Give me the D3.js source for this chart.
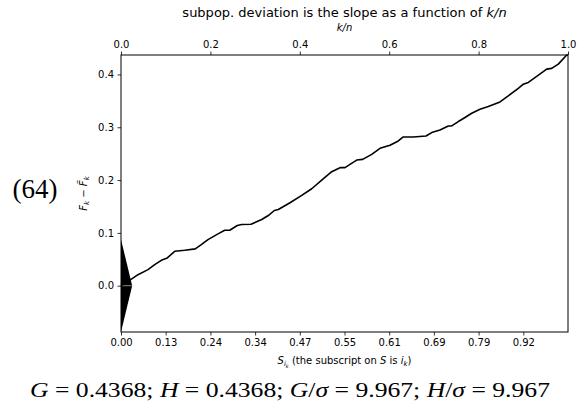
<!DOCTYPE html>
<html><head><meta charset="utf-8">
<script src="https://cdn.jsdelivr.net/npm/d3@7"></script>
<style>body{margin:0;background:#fff}svg{display:block}</style>
</head><body>
<script>
// data
const kn = [0,0.0217,0.038,0.0604,0.0754,0.0902,0.1036,0.1201,0.1425,0.1662,0.1796,0.1946,0.2170,0.2320,0.2432,0.2602,0.2700,0.2908,0.3148,0.3295,0.3430,0.3519,0.3781,0.4043,0.4266,0.4490,0.4714,0.4899,0.5011,0.5123,0.5273,0.5407,0.5609,0.5794,0.6018,0.6204,0.6315,0.6539,0.6823,0.6951,0.7136,0.7322,0.7398,0.7546,0.7696,0.7846,0.8031,0.8217,0.8479,0.8664,0.8888,0.9000,0.9112,0.9300,0.9523,0.9635,0.9783,0.9971,1.0];
const dev = [0,0.0114,0.0209,0.0304,0.0399,0.0480,0.0526,0.0651,0.0670,0.0697,0.0778,0.0873,0.0982,0.1050,0.1050,0.1139,0.1158,0.1164,0.1253,0.1329,0.1424,0.1443,0.1570,0.1709,0.1836,0.1999,0.2159,0.2235,0.2235,0.2297,0.2379,0.2392,0.2487,0.2601,0.2658,0.2740,0.2816,0.2816,0.2835,0.2899,0.2949,0.3025,0.3025,0.3108,0.3184,0.3266,0.3342,0.3393,0.3480,0.3594,0.3735,0.3816,0.3849,0.3962,0.4101,0.4114,0.4196,0.4367,0.4368];
const topTicks = [0,0.2,0.4,0.6,0.8,1.0];
const bottomTickPos = [0,0.1,0.2,0.3,0.4,0.5,0.6,0.7,0.8,0.9];
const bottomTickLabels = ["0.00","0.13","0.24","0.34","0.47","0.55","0.61","0.69","0.79","0.92"];
const yTicks = [0.0,0.1,0.2,0.3,0.4];
const G = 0.4368, sigma = 0.4368/9.967;
const triTip = 0.025;

const W=587,H=408;
const L=121,R=568,T=55,B=332;
const svg=d3.select("body").append("svg").attr("width",W).attr("height",H);
const x=d3.scaleLinear().domain([0,1]).range([L,R]);
const y=d3.scaleLinear().domain([-2*sigma,G]).range([B,T]);
const font="DejaVu Sans";

// triangle
svg.append("path")
  .attr("d",d3.line()([[x(0),y(2*sigma)],[x(triTip),y(0)],[x(0),y(-2*sigma)]])+"Z")
  .attr("fill","#000");
svg.append("line").attr("x1",x(0)).attr("x2",x(triTip)).attr("y1",y(0)).attr("y2",y(0))
  .attr("stroke","#888").attr("stroke-width",1);

// curve
svg.append("path").datum(kn.map((k,i)=>[k,dev[i]]))
  .attr("d",d3.line().x(d=>x(d[0])).y(d=>y(d[1])))
  .attr("fill","none").attr("stroke","#000").attr("stroke-width",1.6).attr("stroke-linejoin","round");

// frame
svg.append("rect").attr("x",L).attr("y",T).attr("width",R-L).attr("height",B-T)
  .attr("fill","none").attr("stroke","#000").attr("stroke-width",1);

function style(g){
  g.select(".domain").remove();
  g.selectAll(".tick line").attr("stroke","#000").attr("stroke-width",0.8);
  g.selectAll(".tick text").attr("font-family",font).attr("font-size",10).attr("fill","#000");
}
svg.append("g").attr("transform",`translate(0,${T})`)
  .call(d3.axisTop(x).tickValues(topTicks).tickFormat(d3.format(".1f")).tickSize(3.5).tickPadding(3.5)).call(style);
svg.append("g").attr("transform",`translate(0,${B})`)
  .call(d3.axisBottom(x).tickValues(bottomTickPos).tickFormat((d,i)=>bottomTickLabels[i]).tickSize(3.5).tickPadding(3.5)).call(style);
svg.append("g").attr("transform",`translate(${L},0)`)
  .call(d3.axisLeft(y).tickValues(yTicks).tickFormat(d3.format(".1f")).tickSize(3.5).tickPadding(3.5)).call(style);

// title
const cx=(L+R)/2;
const t=svg.append("text").attr("x",cx).attr("y",17).attr("text-anchor","middle")
  .attr("font-family",font).attr("font-size",13).attr("fill","#000");
t.append("tspan").text("subpop. deviation is the slope as a function of ");
t.append("tspan").attr("font-style","italic").text("k/n");
svg.append("text").attr("x",cx).attr("y",31).attr("text-anchor","middle")
  .attr("font-family",font).attr("font-size",10).attr("font-style","italic").text("k/n");

// x label
const xl=svg.append("text").attr("x",cx).attr("y",364).attr("text-anchor","middle")
  .attr("font-family",font).attr("font-size",10).attr("fill","#000");
xl.append("tspan").attr("font-style","italic").text("S");
xl.append("tspan").attr("font-style","italic").attr("font-size",7).attr("dy",2).text("i");
xl.append("tspan").attr("font-style","italic").attr("font-size",5).attr("dy",1.5).text("k");
xl.append("tspan").attr("dy",-3.5).text(" (the subscript on ");
xl.append("tspan").attr("font-style","italic").text("S");
xl.append("tspan").text(" is ");
xl.append("tspan").attr("font-style","italic").text("i");
xl.append("tspan").attr("font-style","italic").attr("font-size",7).attr("dy",2).text("k");
xl.append("tspan").attr("dy",-2).text(")");

// y label
const yl=svg.append("text").attr("transform",`translate(87,${(T+B)/2}) rotate(-90)`).attr("text-anchor","middle")
  .attr("font-family",font).attr("font-size",10).attr("fill","#000");
yl.append("tspan").attr("font-style","italic").text("F");
yl.append("tspan").attr("font-style","italic").attr("font-size",7).attr("dy",2).text("k");
yl.append("tspan").attr("dy",-2).text(" \u2212 ");
yl.append("tspan").attr("font-style","italic").text("F\u0303");
yl.append("tspan").attr("font-style","italic").attr("font-size",7).attr("dy",2).text("k");

// (64)
svg.append("text").attr("x",35).attr("y",198).attr("text-anchor","middle")
  .attr("font-family","Liberation Serif").attr("font-size",27).attr("fill","#000").text("(64)");

// bottom formula
const f=svg.append("text").attr("x",290).attr("y",397).attr("text-anchor","middle")
  .attr("font-family","Liberation Serif").attr("font-size",21).attr("fill","#000")
  .attr("textLength",520).attr("lengthAdjust","spacingAndGlyphs");
const parts=[["G",1],[" = 0.4368; ",0],["H",1],[" = 0.4368; ",0],["G",1],["/",0],["\u03C3",1],[" = 9.967; ",0],["H",1],["/",0],["\u03C3",1],[" = 9.967",0]];
parts.forEach(p=>f.append("tspan").attr("font-style",p[1]?"italic":null).text(p[0]));
</script>
</body></html>
